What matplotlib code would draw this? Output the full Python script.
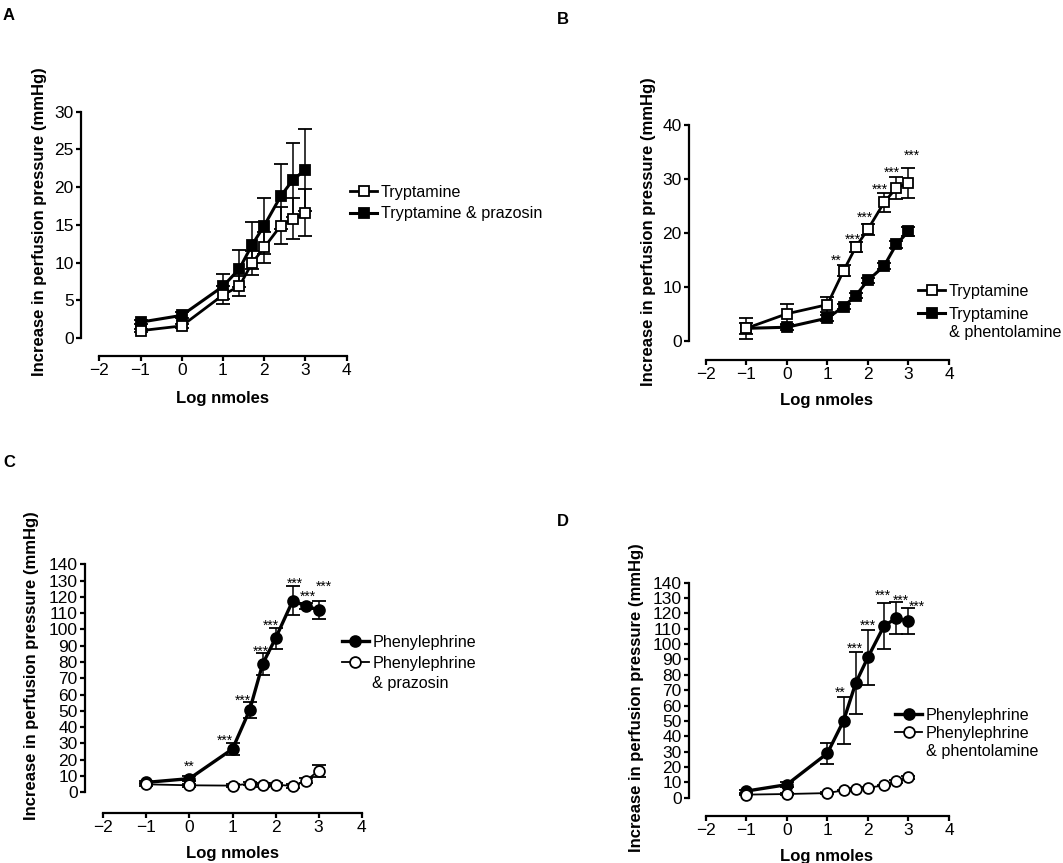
import matplotlib
matplotlib.use("Agg")
import matplotlib.pyplot as plt
from matplotlib.lines import Line2D

plt.rcParams['font.family'] = ['Liberation Sans', 'DejaVu Sans']

# ---------------- data ----------------
log_nmoles = [-1, 0, 1, 1.4, 1.7, 2, 2.4, 2.7, 3]

# Panel A
tryp_A = [0.97, 1.6, 5.7, 6.9, 9.9, 12.0, 14.9, 15.8, 16.6]
tryp_A_err = [0.2, 0.3, 1.2, 1.3, 1.6, 2.0, 2.5, 2.7, 3.1]
tryp_praz_A = [2.1, 3.0, 6.85, 9.2, 12.3, 14.9, 18.8, 21.0, 22.3]
tryp_praz_A_err = [0.3, 0.4, 1.7, 2.4, 3.1, 3.7, 4.3, 4.9, 5.4]

# Panel B
tryp_B = [2.3, 5.0, 6.7, 13.0, 17.4, 20.7, 25.7, 28.4, 29.3]
tryp_B_err = [1.9, 1.9, 1.4, 1.0, 1.0, 1.0, 1.7, 2.1, 2.8]
tryp_phent_B = [2.3, 2.5, 4.2, 6.3, 8.4, 11.2, 13.9, 17.9, 20.3]
tryp_phent_B_err = [1.0, 0.5, 0.5, 0.5, 0.5, 0.5, 0.5, 0.6, 0.8]
stars_B_x = [1.22, 1.64, 1.93, 2.30, 2.60, 3.08]
stars_B_y = [15.5, 19.5, 23.6, 28.8, 32.0, 35.0]
stars_B_txt = ['**', '***', '***', '***', '***', '***']

# Panel C
phe_C = [6.1, 8.4, 26.6, 50.6, 78.8, 94.6, 117.7, 114.4, 112.0]
phe_C_err = [1.0, 1.5, 3.6, 4.8, 7.0, 6.5, 9.0, 2.0, 5.6]
phe_praz_C = [4.9, 4.3, 4.1, 5.3, 4.5, 4.7, 3.9, 7.0, 13.3]
phe_praz_C_err = [1.0, 1.0, 1.0, 1.0, 1.0, 1.0, 1.0, 1.5, 3.6]
stars_C_x = [0.0, 0.83, 1.23, 1.66, 1.90, 2.44, 2.74, 3.12]
stars_C_y = [18.2, 34.0, 58.7, 88.4, 104.8, 130.4, 122.6, 128.3]
stars_C_txt = ['**', '***', '***', '***', '***', '***', '***', '***']

# Panel D
phe_D = [4.3, 8.5, 28.9, 50.1, 74.7, 91.4, 112.0, 116.8, 115.0]
phe_D_err = [1.0, 1.5, 7.0, 15.3, 20.0, 18.0, 15.0, 10.4, 8.4]
phe_phent_D = [2.0, 2.4, 3.0, 4.8, 5.9, 6.5, 8.0, 10.6, 13.2]
phe_phent_D_err = [0.5, 0.5, 0.5, 0.5, 0.5, 0.5, 0.5, 0.8, 1.0]
stars_D_x = [1.32, 1.69, 2.00, 2.38, 2.81, 3.20]
stars_D_y = [70.5, 99.4, 114.4, 133.9, 130.9, 126.5]
stars_D_txt = ['**', '***', '***', '***', '***', '***']

x_ticks = [-2, -1, 0, 1, 2, 3, 4]
yticks_A = [0, 5, 10, 15, 20, 25, 30]
yticks_B = [0, 10, 20, 30, 40]
yticks_CD = list(range(0, 141, 10))

ylabel = "Increase in perfusion pressure (mmHg)"
xlabel = "Log nmoles"

# ---------------- figure ----------------
W, H = 1063, 863
fig = plt.figure(figsize=(W / 100, H / 100), dpi=100)
LEG_FS = 11.6


def fx(px):
    return px / W


def fy(py):
    return 1 - py / H


def make_ax(spine_x, x_lo, x_hi, y0, ytop, ymax, xaxis, yticks):
    ax = fig.add_axes([fx(spine_x), fy(xaxis), (x_hi - spine_x) / W, (xaxis - ytop) / H])
    upp = 6.0 / (x_hi - x_lo)
    ax.set_xlim(-2 - (x_lo - spine_x) * upp, 4)
    vpp = ymax / (y0 - ytop)
    ax.set_ylim(-(xaxis - y0) * vpp, ymax)
    for s in ['top', 'right']:
        ax.spines[s].set_visible(False)
    ax.spines['left'].set_bounds(0, ymax)
    ax.spines['bottom'].set_bounds(-2, 4)
    for s in ['left', 'bottom']:
        ax.spines[s].set_linewidth(1.6)
    ax.set_xticks(x_ticks)
    ax.set_yticks(yticks)
    ax.tick_params(direction='out', length=3.8, width=1.6, labelsize=12.5, pad=1.5)
    ax.patch.set_alpha(0)
    return ax


def series(ax, y, err, marker, filled, lw, z):
    ax.errorbar(log_nmoles, y, yerr=err, fmt='-', marker=marker, color='black',
                mfc='black' if filled else 'white', mec='black', ms=7.8, mew=1.3,
                lw=lw, elinewidth=1.1, ecolor='black', capsize=5, capthick=1.1,
                clip_on=False, zorder=z)
    return Line2D([], [], color='black', marker=marker, ms=7.8, mew=1.3,
                  mfc='black' if filled else 'white', mec='black', lw=lw)


def stars(ax, xs, ys, ts):
    for x, y, t in zip(xs, ys, ts):
        ax.annotate(t, (x, y), xytext=(0, -5.6), textcoords='offset points',
                    ha='center', va='baseline', fontsize=10)


def legend(ax, handles, labels, x_px, y_top_px, spacing, extra=None, extra_gap=13.2):
    leg = ax.legend(handles, labels, loc='upper left',
                    bbox_to_anchor=(fx(x_px), fy(y_top_px)), bbox_transform=fig.transFigure,
                    frameon=False, borderpad=0, borderaxespad=0, handlelength=1.7,
                    handletextpad=0.2, labelspacing=spacing, numpoints=1,
                    prop={'size': LEG_FS})
    if extra:
        ax.annotate(extra, xy=(0, 0), xycoords=leg.get_texts()[-1],
                    xytext=(0, -extra_gap), textcoords='offset points',
                    ha='left', va='bottom', fontsize=LEG_FS, zorder=20)
    return leg


def labels(xc, yc, ylx, yly):
    fig.text(fx(xc), fy(yc), xlabel, ha='center', va='center', fontsize=12, fontweight='bold')
    fig.text(fx(ylx), fy(yly), ylabel, ha='center', va='center', rotation=90,
             fontsize=12, fontweight='bold')


# Panel A
axA = make_ax(81, 99.3, 346.7, 338, 111.7, 30, 356, yticks_A)
hA2 = series(axA, tryp_praz_A, tryp_praz_A_err, 's', True, 2.2, 3)
hA1 = series(axA, tryp_A, tryp_A_err, 's', False, 2.0, 4)
legend(axA, [hA1, hA2], ['Tryptamine', 'Tryptamine & prazosin'], 350, 185, 0.4)
labels(223, 399, 40, 222)

# Panel B
axB = make_ax(689, 705.7, 949, 340.7, 125.5, 40, 360, yticks_B)
hB2 = series(axB, tryp_phent_B, tryp_phent_B_err, 's', True, 2.2, 3)
hB1 = series(axB, tryp_B, tryp_B_err, 's', False, 2.0, 4)
stars(axB, stars_B_x, stars_B_y, stars_B_txt)
legend(axB, [hB1, hB2], ['Tryptamine', 'Tryptamine'], 918, 284, 0.48, '& phentolamine')
labels(827, 400, 648, 232)

# Panel C
axC = make_ax(85, 103.3, 361.7, 792.3, 564.3, 140, 812.7, yticks_CD)
hC1 = series(axC, phe_C, phe_C_err, 'o', True, 2.4, 3)
hC2 = series(axC, phe_praz_C, phe_praz_C_err, 'o', False, 1.3, 4)
stars(axC, stars_C_x, stars_C_y, stars_C_txt)
legend(axC, [hC1, hC2], ['Phenylephrine', 'Phenylephrine'], 341.7, 634.5, 0.38, '& prazosin', 14.6)
labels(232.5, 853, 31.7, 666)

# Panel D
axD = make_ax(689, 705.7, 949, 797.7, 582.7, 140, 816, yticks_CD)
hD1 = series(axD, phe_D, phe_D_err, 'o', True, 2.4, 3)
hD2 = series(axD, phe_phent_D, phe_phent_D_err, 'o', False, 1.3, 4)
stars(axD, stars_D_x, stars_D_y, stars_D_txt)
legend(axD, [hD1, hD2], ['Phenylephrine', 'Phenylephrine'], 895, 708, 0.17, '& phentolamine')
labels(827, 856, 636.7, 698)

# panel letters
for letter, (px, py) in zip('ABCD', [(9, 15), (563, 19), (9, 462), (563, 521)]):
    fig.text(fx(px), fy(py), letter, ha='center', va='center', fontsize=12, fontweight='bold')

fig.savefig('out.png', dpi=100)
